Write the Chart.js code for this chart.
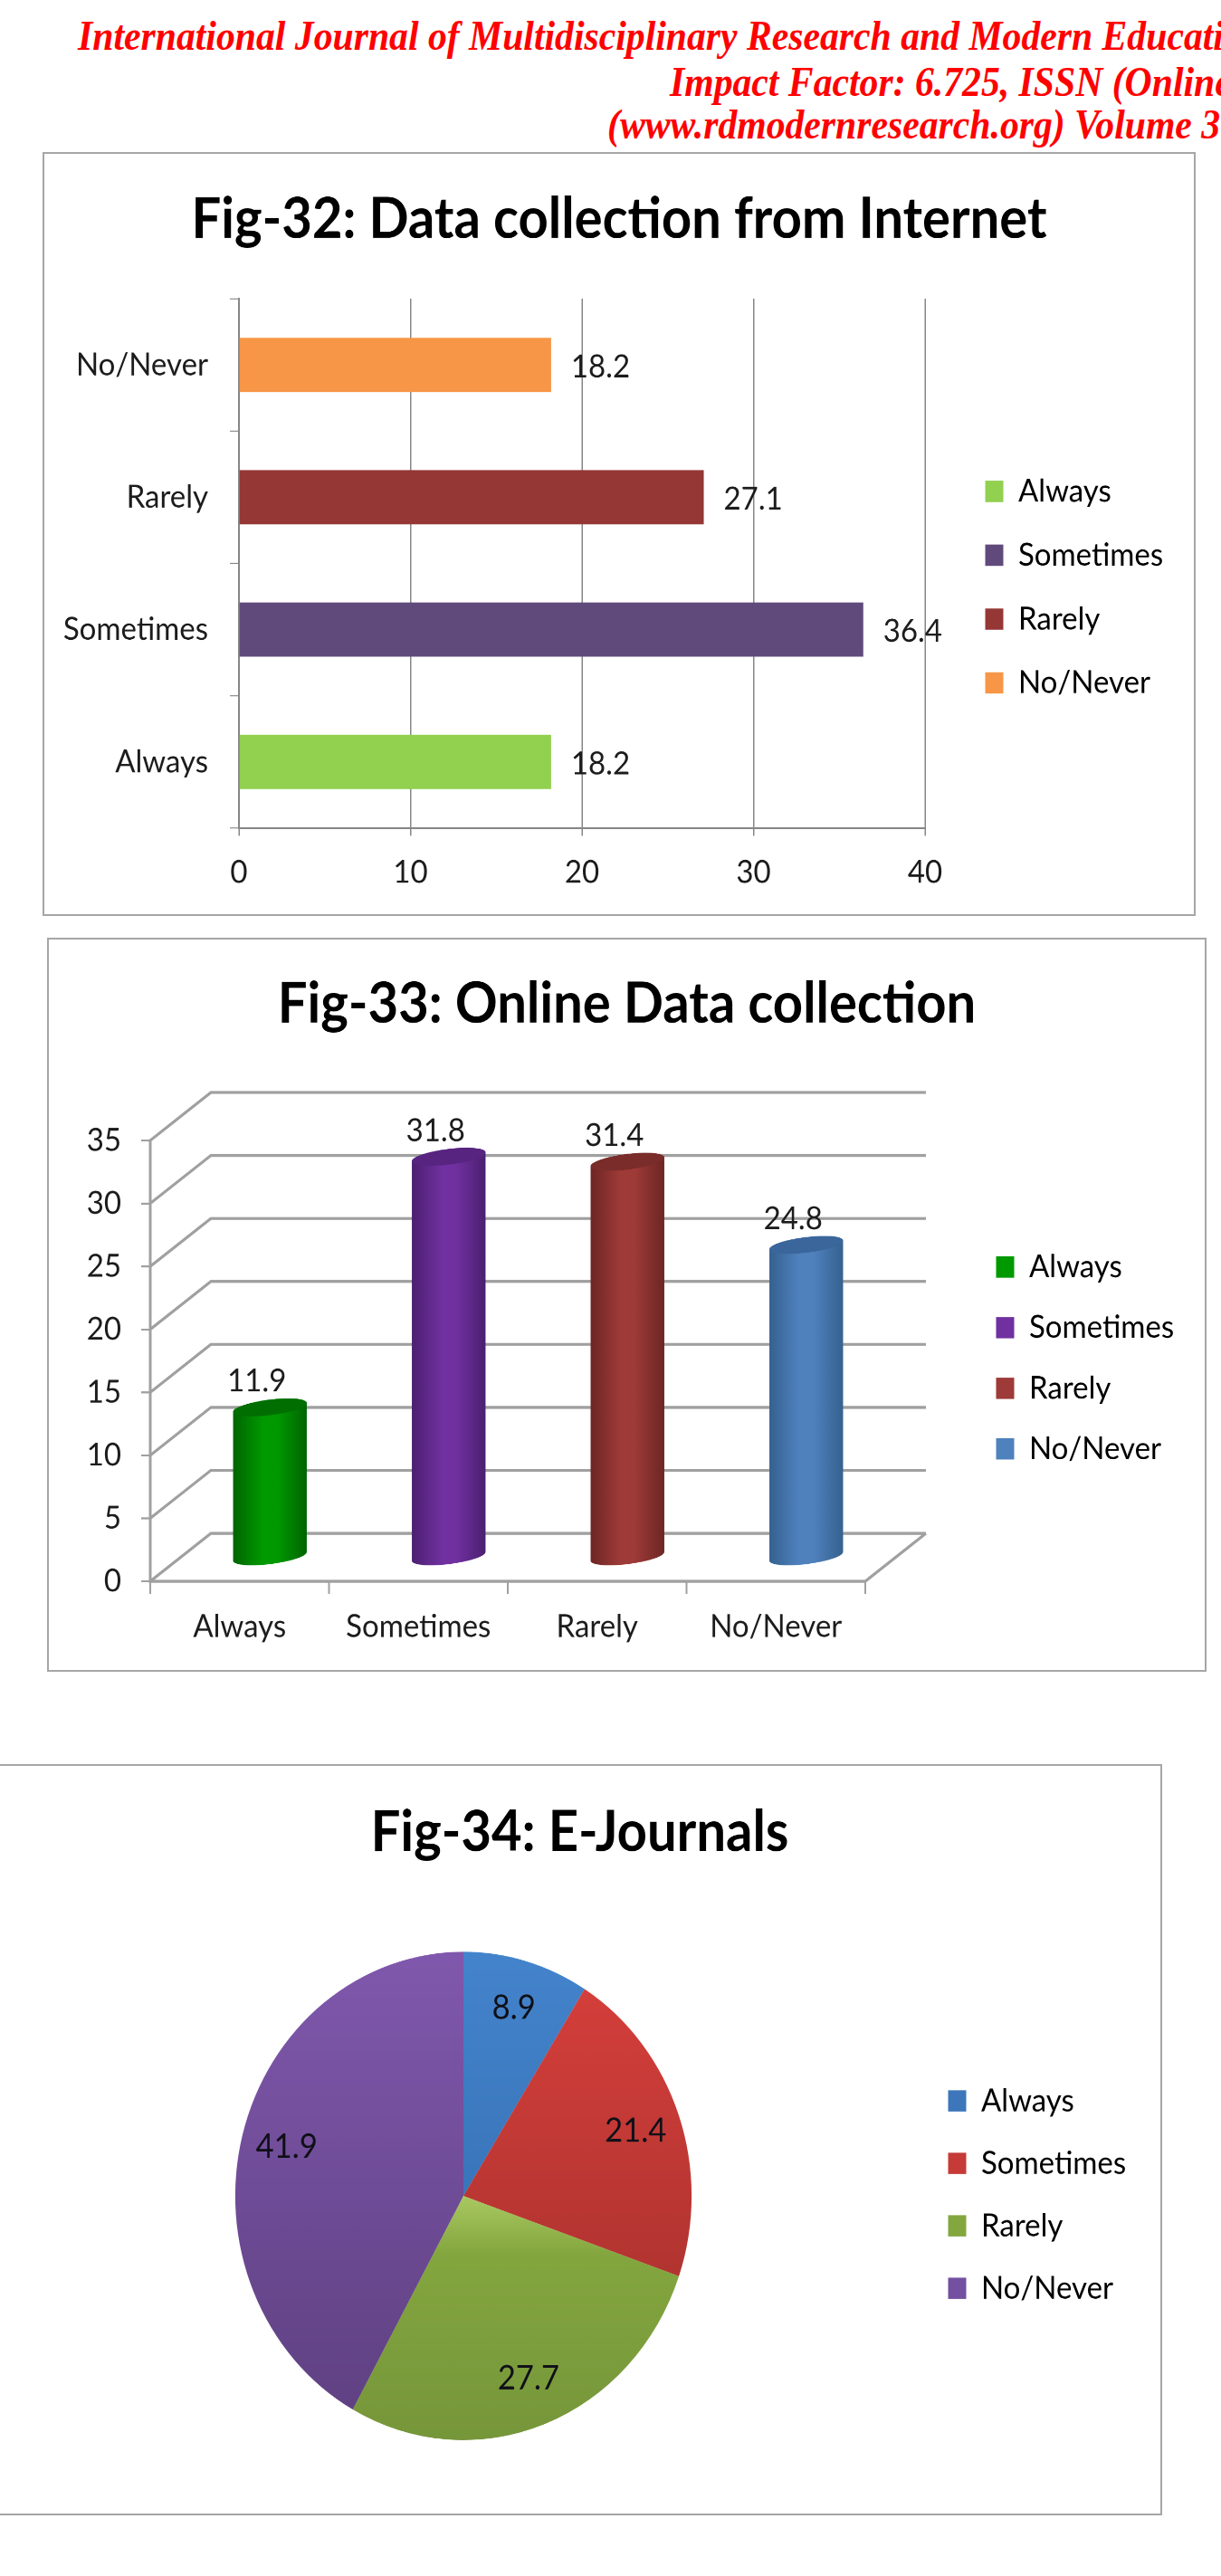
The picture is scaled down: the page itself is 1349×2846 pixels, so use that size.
<!DOCTYPE html>
<html>
<head>
<meta charset="utf-8">
<script src="https://cdn.jsdelivr.net/npm/chart.js@4"></script>
<style>
  html, body { margin: 0; padding: 0; background: #fff; width: 1349px; height: 2846px; overflow: hidden; }
  .head { position: absolute; white-space: nowrap; color: #f00; font: italic bold 41.7px "Liberation Serif", serif; line-height: 48px; transform: scaleY(1.12); }
  .frame { position: absolute; outline: 2px solid #a6a6a6; outline-offset: -2px; }
  .frame canvas { position: absolute; left: 0; top: 0; transform-origin: 0 0; transform: scaleY(1.07); }
</style>
</head>
<body>
<div class="head" style="left:86px;top:15px">International Journal of Multidisciplinary Research and Modern Education</div>
<div class="head" style="left:740px;top:66px">Impact Factor: 6.725, ISSN (Online)</div>
<div class="head" style="left:671px;top:113px">(www.rdmodernresearch.org) Volume 3</div>

<div class="frame" style="left:47px;top:168px;width:1274px;height:844px">
  <canvas id="fig32" width="1274" height="789"></canvas>
</div>
<div class="frame" style="left:52px;top:1036px;width:1281px;height:811px">
  <canvas id="fig33" width="1281" height="758"></canvas>
</div>
<div class="frame" style="left:-3px;top:1949px;width:1287px;height:830px">
  <canvas id="fig34" width="1287" height="776"></canvas>
</div>

<script>
const categories = ["Always", "Sometimes", "Rarely", "No/Never"];

const internetTitle = "Fig-32: Data collection from Internet";
const internetValues = [18.2, 36.4, 27.1, 18.2];
const internetTicks = [0, 10, 20, 30, 40];
const internetColors = ["#92d050", "#604a7b", "#953735", "#f79646"];

const onlineTitle = "Fig-33: Online Data collection";
const onlineValues = [11.9, 31.8, 31.4, 24.8];
const onlineTicks = [0, 5, 10, 15, 20, 25, 30, 35];
const onlineColors = ["#009900", "#7030a0", "#9e3a37", "#4f81bd"];
const onlineEdges = ["#006400", "#4b2070", "#6c2624", "#35618f"];
const onlineTops = ["#006e00", "#572480", "#7a2c2a", "#3a669c"];

const journalTitle = "Fig-34: E-Journals";
const journalValues = [8.9, 21.4, 27.7, 41.9];
const journalColors = ["#3d76ba", "#c63a37", "#84a63f", "#7350a0"];
const journalTop = ["#4484cc", "#d8403c", "#a9c861", "#8058ad"];
const journalBottom = ["#2f66a8", "#9e2e2b", "#76963a", "#5e4080"];

const textColor = "#1c1c1c";
const lineColor = "#a0a0a0";

Chart.defaults.font.family = "Lato";
Chart.defaults.font.size = 33;
Chart.defaults.color = textColor;
Chart.defaults.animation = false;
Chart.defaults.responsive = false;
Chart.defaults.devicePixelRatio = 2;

// title and legend sit at fixed places, the chart area is set by the padding
const placeBoxes = {
  id: "placeBoxes",
  afterLayout(chart, args, opts) {
    chart.titleBlock.left = 0;
    chart.titleBlock.right = chart.width;
    const lg = chart.legend;
    lg.left = opts.left;
    lg.top = opts.top;
    lg.right = chart.width;
    lg.bottom = chart.height;
  }
};

function legendOptions(colors, rowGap) {
  return {
    position: "chartArea",
    align: "start",
    labels: {
      boxWidth: 20,
      boxHeight: 22,
      padding: rowGap,
      font: { size: 33 },
      color: textColor,
      generateLabels: () => categories.map((c, i) => ({ text: c, fillStyle: colors[i], strokeStyle: colors[i], lineWidth: 0, index: i }))
    }
  };
}

function titleOptions(text, top, bottom) {
  return { display: true, text: text, color: "#000", font: { size: 58, weight: "bold" }, padding: { top: top, bottom: bottom } };
}

// Fig-32 labels right of the bars
const barLabels = {
  id: "barLabels",
  afterDatasetsDraw(chart) {
    const ctx = chart.ctx;
    ctx.save();
    ctx.fillStyle = textColor;
    ctx.font = "33px Lato";
    ctx.textAlign = "left";
    ctx.textBaseline = "middle";
    chart.getDatasetMeta(0).data.forEach((el, i) => {
      ctx.fillText(internetValues[i].toFixed(1), el.x + 22, el.y + 2);
    });
    ctx.restore();
  }
};

new Chart("fig32", {
  type: "bar",
  data: {
    labels: categories,
    datasets: [{ data: internetValues, backgroundColor: internetColors, barPercentage: 0.41, categoryPercentage: 1 }]
  },
  options: {
    indexAxis: "y",
    layout: { padding: { right: 299 } },
    plugins: {
      title: titleOptions(internetTitle, 35, 46.8),
      legend: legendOptions(internetColors, 32.9),
      tooltip: { enabled: false },
      placeBoxes: { left: 1008.6, top: 301 }
    },
    scales: {
      x: {
        min: internetTicks[0],
        max: internetTicks[internetTicks.length - 1],
        ticks: { stepSize: 10, padding: 18, color: textColor },
        grid: { color: "#868686", lineWidth: 1.5, tickLength: 8 },
        border: { color: "#868686", width: 2 },
        afterFit: (s) => { s.height = 91; }
      },
      y: {
        reverse: true,
        ticks: { padding: 24, color: textColor },
        grid: { drawOnChartArea: false, color: "#868686", tickLength: 10 },
        border: { color: "#868686", width: 2 },
        afterFit: (s) => { s.width = 217; }
      }
    }
  },
  plugins: [placeBoxes, barLabels]
});

// Fig-33 has a fake 3D box: walls behind the front plane, cylinders half way in
const depthX = 67;
const depthY = -49.5;

const box3d = {
  id: "box3d",
  beforeDatasetsDraw(chart) {
    const { ctx, scales, chartArea } = chart;
    ctx.save();
    ctx.strokeStyle = lineColor;
    ctx.lineWidth = 3;
    onlineTicks.forEach((t) => {
      const y = scales.y.getPixelForValue(t);
      ctx.beginPath();
      ctx.moveTo(chartArea.left, y);
      ctx.lineTo(chartArea.left + depthX, y + depthY);
      ctx.lineTo(chartArea.right + depthX, y + depthY);
      ctx.stroke();
    });
    ctx.beginPath();
    ctx.moveTo(chartArea.right, chartArea.bottom);
    ctx.lineTo(chartArea.right + depthX, chartArea.bottom + depthY);
    ctx.stroke();
    ctx.restore();
  },
  beforeDatasetDraw(chart) {
    const ctx = chart.ctx;
    const tilt = -0.115;
    ctx.save();
    chart.getDatasetMeta(0).data.forEach((el, i) => {
      const cx = el.x + depthX / 2;
      const topY = el.y + depthY / 2;
      const baseY = el.base + depthY / 2;
      const rx = el.width / 2;
      const ry = 8;
      const g = ctx.createLinearGradient(cx - rx, 0, cx + rx, 0);
      g.addColorStop(0, onlineEdges[i]);
      g.addColorStop(0.4, onlineColors[i]);
      g.addColorStop(0.6, onlineColors[i]);
      g.addColorStop(1, onlineEdges[i]);
      ctx.fillStyle = g;
      ctx.beginPath();
      ctx.ellipse(cx, baseY, rx, ry, tilt, 0, Math.PI);
      ctx.ellipse(cx, topY, rx, ry, tilt, Math.PI, 2 * Math.PI);
      ctx.closePath();
      ctx.fill();
      ctx.fillStyle = onlineTops[i];
      ctx.beginPath();
      ctx.ellipse(cx, topY, rx, ry, tilt, 0, 2 * Math.PI);
      ctx.fill();
      ctx.fillStyle = textColor;
      ctx.font = "33px Lato";
      ctx.textAlign = "center";
      ctx.textBaseline = "middle";
      ctx.fillText(onlineValues[i].toFixed(1), el.x + 19, topY - 27);
    });
    ctx.restore();
    return false;
  }
};

new Chart("fig33", {
  type: "bar",
  data: {
    labels: categories,
    datasets: [{ data: onlineValues, backgroundColor: onlineColors, barPercentage: 0.415, categoryPercentage: 1 }]
  },
  options: {
    layout: { padding: { right: 377 } },
    plugins: {
      title: titleOptions(onlineTitle, 34.2, 105.5),
      legend: legendOptions(onlineColors, 29.6),
      tooltip: { enabled: false },
      placeBoxes: { left: 1018.9, top: 293.9 }
    },
    scales: {
      x: {
        ticks: { padding: 14, color: textColor },
        grid: { drawOnChartArea: false, color: lineColor, lineWidth: 2, tickLength: 13 },
        border: { color: lineColor, width: 3 },
        afterFit: (s) => { s.height = 93.5; }
      },
      y: {
        min: onlineTicks[0],
        max: onlineTicks[onlineTicks.length - 1],
        ticks: { stepSize: 5, padding: 22, color: textColor },
        grid: { drawOnChartArea: false, color: lineColor, lineWidth: 2, tickLength: 10 },
        border: { color: lineColor, width: 3 },
        afterFit: (s) => { s.width = 114; }
      }
    }
  },
  plugins: [placeBoxes, box3d]
});

// Fig-34 labels sit inside the end of each slice
const pieLabels = {
  id: "pieLabels",
  afterDatasetsDraw(chart) {
    const ctx = chart.ctx;
    ctx.save();
    ctx.fillStyle = "#101018";
    ctx.font = "34.5px Lato";
    ctx.textAlign = "center";
    ctx.textBaseline = "middle";
    chart.getDatasetMeta(0).data.forEach((arc, i) => {
      const mid = (arc.startAngle + arc.endAngle) / 2;
      const r = arc.outerRadius * 0.8;
      ctx.fillText(journalValues[i].toFixed(1), arc.x + Math.cos(mid) * r, arc.y + Math.sin(mid) * r);
    });
    ctx.restore();
  }
};

function sliceFill(c) {
  const area = c.chart.chartArea;
  const i = c.dataIndex;
  if (!area) return journalColors[i];
  const g = c.chart.ctx.createLinearGradient(0, area.top, 0, area.bottom);
  if (i === 2) {
    g.addColorStop(0.5, journalTop[i]);
    g.addColorStop(0.62, journalColors[i]);
  } else {
    g.addColorStop(0, journalTop[i]);
  }
  g.addColorStop(1, journalBottom[i]);
  return g;
}

new Chart("fig34", {
  type: "pie",
  data: {
    labels: categories,
    datasets: [{ data: journalValues, backgroundColor: sliceFill, borderWidth: 0 }]
  },
  options: {
    layout: { padding: { right: 257, bottom: 78 } },
    plugins: {
      title: titleOptions(journalTitle, 36.2, 88),
      legend: legendOptions(journalColors, 31.5),
      tooltip: { enabled: false },
      placeBoxes: { left: 1019, top: 299.7 }
    }
  },
  plugins: [placeBoxes, pieLabels]
});
</script>
</body>
</html>
